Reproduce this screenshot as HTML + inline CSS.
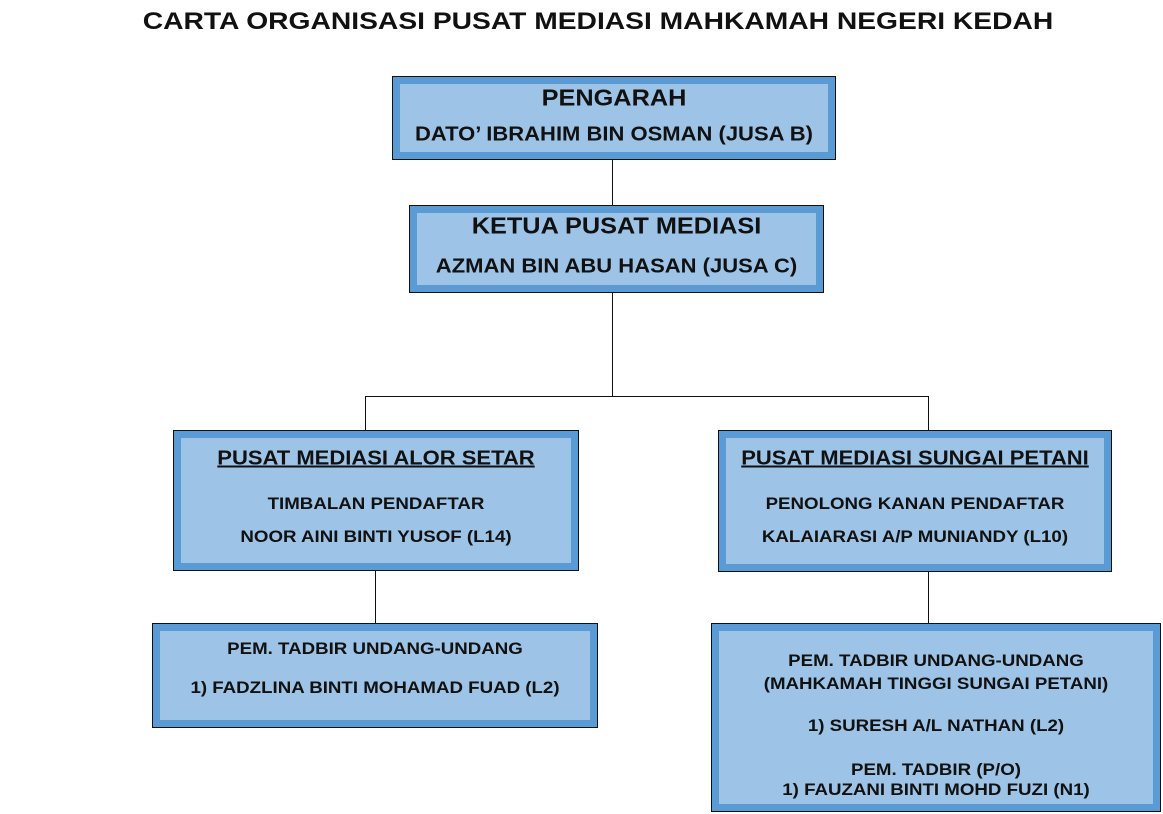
<!DOCTYPE html>
<html><head><style>
body{margin:0;width:1163px;height:814px;background:#fff;position:relative;font-family:"Liberation Sans",sans-serif;font-weight:bold;color:#111;overflow:hidden}
.b{position:absolute;box-sizing:border-box;border:1px solid #111;background:#5b9bd5;padding:7px}
.i{width:100%;height:100%;background:#9dc3e6;position:relative}
.t{position:absolute;left:0;right:0;text-align:center;white-space:nowrap;transform:translateY(-50%) scaleX(1.1)}
.l{position:absolute;background:#111}
</style></head><body>
<div class="t" style="top:22px;font-size:24px;left:0;width:1196px;transform:translateY(-50%) scaleX(1.176)">CARTA ORGANISASI PUSAT MEDIASI MAHKAMAH NEGERI KEDAH</div>

<div class="l" style="left:612px;top:159px;width:1px;height:46px"></div>
<div class="l" style="left:612px;top:292px;width:1px;height:105px"></div>
<div class="l" style="left:365px;top:396px;width:564px;height:1px"></div>
<div class="l" style="left:365px;top:396px;width:1px;height:34px"></div>
<div class="l" style="left:928px;top:396px;width:1px;height:34px"></div>
<div class="l" style="left:375px;top:570px;width:1px;height:53px"></div>
<div class="l" style="left:928px;top:571px;width:1px;height:52px"></div>

<div class="b" style="left:392px;top:76px;width:444px;height:84px"><div class="i">
<div class="t" style="top:14px;font-size:23px">PENGARAH</div>
<div class="t" style="top:51px;font-size:20px">DATO’ IBRAHIM BIN OSMAN (JUSA B)</div></div></div>

<div class="b" style="left:409px;top:205px;width:415px;height:88px"><div class="i">
<div class="t" style="top:13px;font-size:23px">KETUA PUSAT MEDIASI</div>
<div class="t" style="top:54px;font-size:20px">AZMAN BIN ABU HASAN (JUSA C)</div></div></div>

<div class="b" style="left:173px;top:430px;width:406px;height:141px"><div class="i">
<div class="t" style="top:21px;font-size:20px;text-decoration:underline">PUSAT MEDIASI ALOR SETAR</div>
<div class="t" style="top:66px;font-size:17px">TIMBALAN PENDAFTAR</div>
<div class="t" style="top:99px;font-size:17px">NOOR AINI BINTI YUSOF (L14)</div></div></div>

<div class="b" style="left:718px;top:430px;width:394px;height:142px"><div class="i">
<div class="t" style="top:21px;font-size:20px;text-decoration:underline">PUSAT MEDIASI SUNGAI PETANI</div>
<div class="t" style="top:66px;font-size:17px">PENOLONG KANAN PENDAFTAR</div>
<div class="t" style="top:99px;font-size:17px">KALAIARASI A/P MUNIANDY (L10)</div></div></div>

<div class="b" style="left:152px;top:623px;width:446px;height:105px"><div class="i">
<div class="t" style="top:18px;font-size:17px">PEM. TADBIR UNDANG-UNDANG</div>
<div class="t" style="top:57px;font-size:17px">1) FADZLINA BINTI MOHAMAD FUAD (L2)</div></div></div>

<div class="b" style="left:711px;top:623px;width:450px;height:189px"><div class="i">
<div class="t" style="top:30px;font-size:17px">PEM. TADBIR UNDANG-UNDANG</div>
<div class="t" style="top:53px;font-size:17px">(MAHKAMAH TINGGI SUNGAI PETANI)</div>
<div class="t" style="top:95px;font-size:17px">1) SURESH A/L NATHAN (L2)</div>
<div class="t" style="top:139px;font-size:17px">PEM. TADBIR (P/O)</div>
<div class="t" style="top:159px;font-size:17px">1) FAUZANI BINTI MOHD FUZI (N1)</div></div></div>
</body></html>
